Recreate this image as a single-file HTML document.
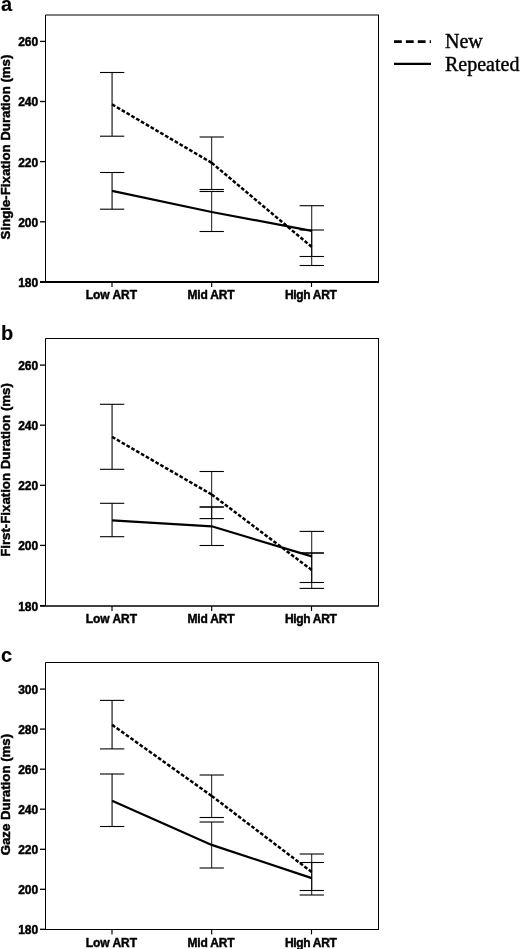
<!DOCTYPE html><html><head><meta charset="utf-8"><style>html,body{margin:0;padding:0;background:#fff;width:520px;height:949px;overflow:hidden}svg{display:block;will-change:transform}.t{font-family:"Liberation Sans",sans-serif;font-weight:bold;fill:#000;stroke:#000;stroke-width:0.45px}.s{font-family:"Liberation Serif",serif;fill:#000;stroke:#000;stroke-width:0.4px}</style></head><body>
<svg width="520" height="949" viewBox="0 0 520 949">
<line x1="45.5" y1="15.0" x2="379.0" y2="15.0" stroke="#000" stroke-width="1.1"/>
<line x1="378.5" y1="15.0" x2="378.5" y2="282.0" stroke="#000" stroke-width="1"/>
<line x1="45.5" y1="15.0" x2="45.5" y2="282.0" stroke="#000" stroke-width="1"/>
<line x1="40" y1="282.0" x2="379.0" y2="282.0" stroke="#000" stroke-width="1.8"/>
<line x1="40" y1="41.4" x2="45.5" y2="41.4" stroke="#000" stroke-width="1.3"/>
<text class="t" x="38.2" y="46.3" font-size="12" text-anchor="end">260</text>
<line x1="40" y1="101.5" x2="45.5" y2="101.5" stroke="#000" stroke-width="1.3"/>
<text class="t" x="38.2" y="106.4" font-size="12" text-anchor="end">240</text>
<line x1="40" y1="161.6" x2="45.5" y2="161.6" stroke="#000" stroke-width="1.3"/>
<text class="t" x="38.2" y="166.5" font-size="12" text-anchor="end">220</text>
<line x1="40" y1="221.8" x2="45.5" y2="221.8" stroke="#000" stroke-width="1.3"/>
<text class="t" x="38.2" y="226.7" font-size="12" text-anchor="end">200</text>
<line x1="40" y1="281.9" x2="45.5" y2="281.9" stroke="#000" stroke-width="1.3"/>
<text class="t" x="38.2" y="286.8" font-size="12" text-anchor="end">180</text>
<line x1="112.0" y1="282.0" x2="112.0" y2="286.9" stroke="#000" stroke-width="1.15"/>
<text class="t" x="111.40" y="299.2" font-size="12" text-anchor="middle" textLength="51.3">Low ART</text>
<line x1="211.7" y1="282.0" x2="211.7" y2="286.9" stroke="#000" stroke-width="1.15"/>
<text class="t" x="211.10" y="299.2" font-size="12" text-anchor="middle" textLength="47.1">Mid ART</text>
<line x1="311.5" y1="282.0" x2="311.5" y2="286.9" stroke="#000" stroke-width="1.15"/>
<text class="t" x="310.90" y="299.2" font-size="12" text-anchor="middle" textLength="51.9">High ART</text>
<line x1="112.07" y1="72.5" x2="112.07" y2="136.2" stroke="#000" stroke-width="1.07"/>
<line x1="99.97" y1="72.5" x2="124.27" y2="72.5" stroke="#000" stroke-width="1.1"/>
<line x1="99.97" y1="136.2" x2="124.27" y2="136.2" stroke="#000" stroke-width="1.1"/>
<line x1="112.07" y1="172.5" x2="112.07" y2="209.2" stroke="#000" stroke-width="1.07"/>
<line x1="99.97" y1="172.5" x2="124.27" y2="172.5" stroke="#000" stroke-width="1.1"/>
<line x1="99.97" y1="209.2" x2="124.27" y2="209.2" stroke="#000" stroke-width="1.1"/>
<line x1="211.68" y1="137.0" x2="211.68" y2="189.5" stroke="#000" stroke-width="0.92"/>
<line x1="199.58" y1="137.0" x2="223.88" y2="137.0" stroke="#000" stroke-width="1.1"/>
<line x1="199.58" y1="189.5" x2="223.88" y2="189.5" stroke="#000" stroke-width="1.1"/>
<line x1="211.68" y1="191.5" x2="211.68" y2="231.5" stroke="#000" stroke-width="0.92"/>
<line x1="199.58" y1="191.5" x2="223.88" y2="191.5" stroke="#000" stroke-width="1.1"/>
<line x1="199.58" y1="231.5" x2="223.88" y2="231.5" stroke="#000" stroke-width="1.1"/>
<line x1="311.72" y1="230.0" x2="311.72" y2="265.5" stroke="#000" stroke-width="0.93"/>
<line x1="299.62" y1="230.0" x2="323.92" y2="230.0" stroke="#000" stroke-width="1.1"/>
<line x1="299.62" y1="265.5" x2="323.92" y2="265.5" stroke="#000" stroke-width="1.1"/>
<line x1="311.72" y1="205.7" x2="311.72" y2="256.5" stroke="#000" stroke-width="0.93"/>
<line x1="299.62" y1="205.7" x2="323.92" y2="205.7" stroke="#000" stroke-width="1.1"/>
<line x1="299.62" y1="256.5" x2="323.92" y2="256.5" stroke="#000" stroke-width="1.1"/>
<line x1="112.07" y1="104.4" x2="211.68" y2="162.8" stroke="#000" stroke-width="2.5" stroke-dasharray="3.693 1.896"/>
<line x1="211.68" y1="162.8" x2="311.72" y2="246.9" stroke="#000" stroke-width="2.5" stroke-dasharray="3.650 1.874"/>
<polyline points="112.07,190.9 211.68,212.0 311.72,230.8" fill="none" stroke="#000" stroke-width="2.2"/>
<text class="t" x="1" y="11.1" font-size="20" style="stroke-width:0.15px">a</text>
<text class="t" font-size="13.25" text-anchor="middle" transform="translate(9.8 147.0) rotate(-90)">Single-Fixation Duration (ms)</text>
<line x1="45.5" y1="338.5" x2="379.0" y2="338.5" stroke="#000" stroke-width="1.1"/>
<line x1="378.5" y1="338.5" x2="378.5" y2="606.0" stroke="#000" stroke-width="1"/>
<line x1="45.5" y1="338.5" x2="45.5" y2="606.0" stroke="#000" stroke-width="1"/>
<line x1="40" y1="606.0" x2="379.0" y2="606.0" stroke="#000" stroke-width="1.4"/>
<line x1="40" y1="365.1" x2="45.5" y2="365.1" stroke="#000" stroke-width="1.3"/>
<text class="t" x="38.2" y="370.0" font-size="12" text-anchor="end">260</text>
<line x1="40" y1="425.2" x2="45.5" y2="425.2" stroke="#000" stroke-width="1.3"/>
<text class="t" x="38.2" y="430.1" font-size="12" text-anchor="end">240</text>
<line x1="40" y1="485.3" x2="45.5" y2="485.3" stroke="#000" stroke-width="1.3"/>
<text class="t" x="38.2" y="490.2" font-size="12" text-anchor="end">220</text>
<line x1="40" y1="545.4" x2="45.5" y2="545.4" stroke="#000" stroke-width="1.3"/>
<text class="t" x="38.2" y="550.3" font-size="12" text-anchor="end">200</text>
<line x1="40" y1="605.6" x2="45.5" y2="605.6" stroke="#000" stroke-width="1.3"/>
<text class="t" x="38.2" y="610.5" font-size="12" text-anchor="end">180</text>
<line x1="112.0" y1="606.0" x2="112.0" y2="610.9" stroke="#000" stroke-width="1.15"/>
<text class="t" x="111.40" y="623.2" font-size="12" text-anchor="middle" textLength="51.3">Low ART</text>
<line x1="211.7" y1="606.0" x2="211.7" y2="610.9" stroke="#000" stroke-width="1.15"/>
<text class="t" x="211.10" y="623.2" font-size="12" text-anchor="middle" textLength="47.1">Mid ART</text>
<line x1="311.5" y1="606.0" x2="311.5" y2="610.9" stroke="#000" stroke-width="1.15"/>
<text class="t" x="310.90" y="623.2" font-size="12" text-anchor="middle" textLength="51.9">High ART</text>
<line x1="112.07" y1="404.3" x2="112.07" y2="469.3" stroke="#000" stroke-width="1.07"/>
<line x1="99.97" y1="404.3" x2="124.27" y2="404.3" stroke="#000" stroke-width="1.1"/>
<line x1="99.97" y1="469.3" x2="124.27" y2="469.3" stroke="#000" stroke-width="1.1"/>
<line x1="112.07" y1="503.3" x2="112.07" y2="536.7" stroke="#000" stroke-width="1.07"/>
<line x1="99.97" y1="503.3" x2="124.27" y2="503.3" stroke="#000" stroke-width="1.1"/>
<line x1="99.97" y1="536.7" x2="124.27" y2="536.7" stroke="#000" stroke-width="1.1"/>
<line x1="211.68" y1="471.5" x2="211.68" y2="518.6" stroke="#000" stroke-width="0.92"/>
<line x1="199.58" y1="471.5" x2="223.88" y2="471.5" stroke="#000" stroke-width="1.1"/>
<line x1="199.58" y1="518.6" x2="223.88" y2="518.6" stroke="#000" stroke-width="1.1"/>
<line x1="211.68" y1="507.0" x2="211.68" y2="545.5" stroke="#000" stroke-width="0.92"/>
<line x1="199.58" y1="507.0" x2="223.88" y2="507.0" stroke="#000" stroke-width="1.6"/>
<line x1="199.58" y1="545.5" x2="223.88" y2="545.5" stroke="#000" stroke-width="1.1"/>
<line x1="311.72" y1="553.0" x2="311.72" y2="588.4" stroke="#000" stroke-width="0.93"/>
<line x1="299.62" y1="553.0" x2="323.92" y2="553.0" stroke="#000" stroke-width="1.6"/>
<line x1="299.62" y1="588.4" x2="323.92" y2="588.4" stroke="#000" stroke-width="1.1"/>
<line x1="311.72" y1="531.4" x2="311.72" y2="582.5" stroke="#000" stroke-width="0.93"/>
<line x1="299.62" y1="531.4" x2="323.92" y2="531.4" stroke="#000" stroke-width="1.1"/>
<line x1="299.62" y1="582.5" x2="323.92" y2="582.5" stroke="#000" stroke-width="1.1"/>
<line x1="112.07" y1="436.9" x2="211.68" y2="494.5" stroke="#000" stroke-width="2.5" stroke-dasharray="3.680 1.890"/>
<line x1="211.68" y1="494.5" x2="311.72" y2="570.0" stroke="#000" stroke-width="2.5" stroke-dasharray="3.654 1.877"/>
<polyline points="112.07,520.4 211.68,526.3 311.72,556.4" fill="none" stroke="#000" stroke-width="2.2"/>
<text class="t" x="1" y="340.2" font-size="20" style="stroke-width:0.15px">b</text>
<text class="t" font-size="13.25" text-anchor="middle" transform="translate(9.8 470.0) rotate(-90)">First-Fixation Duration (ms)</text>
<line x1="45.5" y1="662.5" x2="379.0" y2="662.5" stroke="#000" stroke-width="1.1"/>
<line x1="378.5" y1="662.5" x2="378.5" y2="929.5" stroke="#000" stroke-width="1"/>
<line x1="45.5" y1="662.5" x2="45.5" y2="929.5" stroke="#000" stroke-width="1"/>
<line x1="40" y1="929.5" x2="379.0" y2="929.5" stroke="#000" stroke-width="1.2"/>
<line x1="40" y1="689.1" x2="45.5" y2="689.1" stroke="#000" stroke-width="1.3"/>
<text class="t" x="38.2" y="694.0" font-size="12" text-anchor="end">300</text>
<line x1="40" y1="729.1" x2="45.5" y2="729.1" stroke="#000" stroke-width="1.3"/>
<text class="t" x="38.2" y="734.0" font-size="12" text-anchor="end">280</text>
<line x1="40" y1="769.2" x2="45.5" y2="769.2" stroke="#000" stroke-width="1.3"/>
<text class="t" x="38.2" y="774.1" font-size="12" text-anchor="end">260</text>
<line x1="40" y1="809.2" x2="45.5" y2="809.2" stroke="#000" stroke-width="1.3"/>
<text class="t" x="38.2" y="814.1" font-size="12" text-anchor="end">240</text>
<line x1="40" y1="849.3" x2="45.5" y2="849.3" stroke="#000" stroke-width="1.3"/>
<text class="t" x="38.2" y="854.2" font-size="12" text-anchor="end">220</text>
<line x1="40" y1="889.3" x2="45.5" y2="889.3" stroke="#000" stroke-width="1.3"/>
<text class="t" x="38.2" y="894.2" font-size="12" text-anchor="end">200</text>
<line x1="40" y1="929.3" x2="45.5" y2="929.3" stroke="#000" stroke-width="1.3"/>
<text class="t" x="38.2" y="934.2" font-size="12" text-anchor="end">180</text>
<line x1="112.0" y1="929.5" x2="112.0" y2="934.4" stroke="#000" stroke-width="1.15"/>
<text class="t" x="111.40" y="946.7" font-size="12" text-anchor="middle" textLength="51.3">Low ART</text>
<line x1="211.7" y1="929.5" x2="211.7" y2="934.4" stroke="#000" stroke-width="1.15"/>
<text class="t" x="211.10" y="946.7" font-size="12" text-anchor="middle" textLength="47.1">Mid ART</text>
<line x1="311.5" y1="929.5" x2="311.5" y2="934.4" stroke="#000" stroke-width="1.15"/>
<text class="t" x="310.90" y="946.7" font-size="12" text-anchor="middle" textLength="51.9">High ART</text>
<line x1="112.07" y1="700.4" x2="112.07" y2="748.9" stroke="#000" stroke-width="1.07"/>
<line x1="99.97" y1="700.4" x2="124.27" y2="700.4" stroke="#000" stroke-width="1.1"/>
<line x1="99.97" y1="748.9" x2="124.27" y2="748.9" stroke="#000" stroke-width="1.1"/>
<line x1="112.07" y1="774.0" x2="112.07" y2="826.5" stroke="#000" stroke-width="1.07"/>
<line x1="99.97" y1="774.0" x2="124.27" y2="774.0" stroke="#000" stroke-width="1.1"/>
<line x1="99.97" y1="826.5" x2="124.27" y2="826.5" stroke="#000" stroke-width="1.1"/>
<line x1="211.68" y1="775.0" x2="211.68" y2="817.5" stroke="#000" stroke-width="0.92"/>
<line x1="199.58" y1="775.0" x2="223.88" y2="775.0" stroke="#000" stroke-width="1.1"/>
<line x1="199.58" y1="817.5" x2="223.88" y2="817.5" stroke="#000" stroke-width="1.1"/>
<line x1="211.68" y1="822.0" x2="211.68" y2="868.0" stroke="#000" stroke-width="0.92"/>
<line x1="199.58" y1="822.0" x2="223.88" y2="822.0" stroke="#000" stroke-width="1.1"/>
<line x1="199.58" y1="868.0" x2="223.88" y2="868.0" stroke="#000" stroke-width="1.1"/>
<line x1="311.72" y1="854.0" x2="311.72" y2="890.5" stroke="#000" stroke-width="0.93"/>
<line x1="299.62" y1="854.0" x2="323.92" y2="854.0" stroke="#000" stroke-width="1.1"/>
<line x1="299.62" y1="890.5" x2="323.92" y2="890.5" stroke="#000" stroke-width="1.1"/>
<line x1="311.72" y1="862.5" x2="311.72" y2="895.0" stroke="#000" stroke-width="0.93"/>
<line x1="299.62" y1="862.5" x2="323.92" y2="862.5" stroke="#000" stroke-width="1.1"/>
<line x1="299.62" y1="895.0" x2="323.92" y2="895.0" stroke="#000" stroke-width="1.1"/>
<line x1="112.07" y1="724.8" x2="211.68" y2="795.9" stroke="#000" stroke-width="2.5" stroke-dasharray="3.733 1.917"/>
<line x1="211.68" y1="795.9" x2="311.72" y2="872.0" stroke="#000" stroke-width="2.5" stroke-dasharray="3.665 1.882"/>
<polyline points="112.07,800.8 211.68,844.9 311.72,878.1" fill="none" stroke="#000" stroke-width="2.2"/>
<text class="t" x="1" y="662.3" font-size="20" style="stroke-width:0.15px">c</text>
<text class="t" font-size="13.25" text-anchor="middle" transform="translate(9.8 794.6) rotate(-90)">Gaze Duration (ms)</text>
<line x1="394" y1="41.6" x2="431" y2="41.6" stroke="#000" stroke-width="2.6" stroke-dasharray="7.8 4.1"/>
<line x1="394" y1="63.9" x2="431" y2="63.9" stroke="#000" stroke-width="2.2"/>
<text class="s" x="445" y="47.8" font-size="20">New</text>
<text class="s" x="445" y="70.6" font-size="20">Repeated</text>
</svg></body></html>
